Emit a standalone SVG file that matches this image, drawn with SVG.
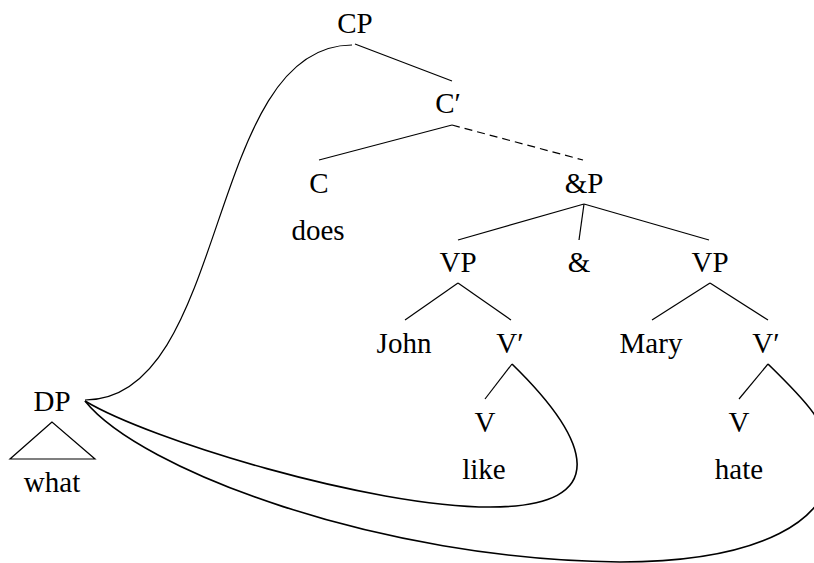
<svg xmlns="http://www.w3.org/2000/svg" width="814" height="563" viewBox="0 0 814 563">
<style>
text{font-family:"Liberation Serif","Times New Roman",serif;font-size:29px;fill:#000;text-anchor:middle}
.e{stroke:#000;stroke-width:1.2;fill:none}
.d{stroke-dasharray:8 5}
.m{stroke:#000;stroke-width:1.2;fill:none}
.m2{stroke:#000;stroke-width:1.6;fill:none}
</style>
<rect width="814" height="563" fill="#fff"/>
<g id="connectors">
<line class="e" x1="355" y1="44" x2="452" y2="81"/>
<line class="e" x1="452" y1="125" x2="319" y2="160"/>
<line class="e d" x1="452" y1="125" x2="583" y2="160"/>
<line class="e" x1="584" y1="204" x2="458" y2="240"/>
<line class="e" x1="584" y1="204" x2="579" y2="240"/>
<line class="e" x1="584" y1="204" x2="709" y2="240"/>
<line class="e" x1="458" y1="283" x2="405" y2="320"/>
<line class="e" x1="458" y1="283" x2="511" y2="320"/>
<line class="e" x1="710" y1="283" x2="652" y2="320"/>
<line class="e" x1="710" y1="283" x2="768" y2="320"/>
<line class="e" x1="512" y1="364" x2="485" y2="399"/>
<line class="e" x1="768" y1="364" x2="739" y2="399"/>
<polygon class="e" points="52,422 10,459 95,459"/>
<path class="m" d="M85,400 C230,400 205,45 352,45"/>
<path class="m2" d="M85,401 C150,440 370,507 490,507 C615,507 590,440 512,364"/>
<path class="m2" d="M85,401 C140,470 380,560 620,562 C760,562 835,520 830,460 C830,425 805,400 768,364"/>
</g>
<g id="CP"><text x="355" y="33">CP</text></g>
<g id="Cbar"><text x="448" y="113">C′</text></g>
<g id="C"><text x="319" y="193">C</text><text x="318" y="240">does</text></g>
<g id="AndP"><text x="584" y="193">&amp;P</text></g>
<g id="VP1"><text x="458" y="272">VP</text></g>
<g id="And"><text x="579" y="272">&amp;</text></g>
<g id="VP2"><text x="710" y="272">VP</text></g>
<g id="John"><text x="404" y="353">John</text></g>
<g id="Vbar1"><text x="510" y="353">V′</text></g>
<g id="Mary"><text x="651" y="353">Mary</text></g>
<g id="Vbar2"><text x="766" y="353">V′</text></g>
<g id="V1"><text x="485" y="432">V</text><text x="484" y="479">like</text></g>
<g id="V2"><text x="739" y="432">V</text><text x="739" y="479">hate</text></g>
<g id="DP"><text x="52" y="411">DP</text><text x="52" y="492">what</text></g>
</svg>
